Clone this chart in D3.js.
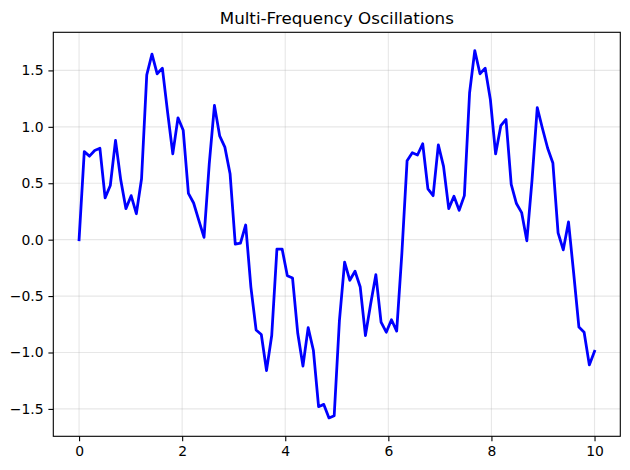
<!DOCTYPE html>
<html><head><meta charset="utf-8">
<script src="https://cdn.jsdelivr.net/npm/d3@7"></script>
<style>body{margin:0;background:#fff}svg{display:block}</style>
</head><body>
<script>
const title = "Multi-Frequency Oscillations";
const nPoints = 100;
const xStart = 0, xEnd = 10;
const yValues = [
  0.00, 0.78, 0.74, 0.79, 0.81, 0.37, 0.48, 0.88, 0.53, 0.275,
  0.39, 0.23, 0.54, 1.46, 1.645, 1.47, 1.52, 1.13, 0.76, 1.08,
  0.97, 0.41, 0.325, 0.17, 0.02, 0.67, 1.19, 0.92, 0.82, 0.585,
  -0.04, -0.03, 0.13, -0.42, -0.80, -0.84, -1.16, -0.85, -0.083, -0.083,
  -0.32, -0.34, -0.83, -1.12, -0.78, -0.98, -1.48, -1.46, -1.58, -1.56,
  -0.72, -0.20, -0.36, -0.28, -0.42, -0.85, -0.57, -0.31, -0.73, -0.82,
  -0.71, -0.81, -0.12, 0.70, 0.77, 0.75, 0.85, 0.45, 0.39, 0.84,
  0.65, 0.275, 0.385, 0.26, 0.39, 1.30, 1.675, 1.47, 1.52, 1.24,
  0.76, 1.01, 1.065, 0.49, 0.32, 0.24, -0.01, 0.53, 1.17, 0.985,
  0.81, 0.68, 0.06, -0.09, 0.157, -0.30, -0.775, -0.82, -1.11, -0.99
];
const xTicks = [0, 2, 4, 6, 8, 10];
const yTicks = [-1.5, -1.0, -0.5, 0.0, 0.5, 1.0, 1.5];

const W = 630, H = 470;
const m = {left: 53.3, top: 32.3, right: 630 - 620.3, bottom: 470 - 436.3};
const xValues = d3.range(nPoints).map(i => xStart + (xEnd - xStart) * i / (nPoints - 1));

const svg = d3.select("body").append("svg").attr("width", W).attr("height", H);

const xr = d3.extent(xValues), yr = d3.extent(yValues);
const xm = (xr[1] - xr[0]) * 0.05, ym = (yr[1] - yr[0]) * 0.05;
const x = d3.scaleLinear().domain([xr[0] - xm, xr[1] + xm]).range([m.left, W - m.right]);
const y = d3.scaleLinear().domain([yr[0] - ym, yr[1] + ym]).range([H - m.bottom, m.top]);

const font = "DejaVu Sans, sans-serif";
const fmt = d => (d < 0 ? "\u2212" : "") + Math.abs(d).toFixed(1);

// grid
const g = svg.append("g");
g.selectAll(".vx").data(xTicks).enter().append("line")
  .attr("x1", d => x(d)).attr("x2", d => x(d)).attr("y1", m.top).attr("y2", H - m.bottom)
  .attr("stroke", "#b0b0b0").attr("stroke-opacity", 0.3).attr("stroke-width", 1.1);
g.selectAll(".hy").data(yTicks).enter().append("line")
  .attr("y1", d => y(d)).attr("y2", d => y(d)).attr("x1", m.left).attr("x2", W - m.right)
  .attr("stroke", "#b0b0b0").attr("stroke-opacity", 0.3).attr("stroke-width", 1.1);

// axes
const xAxis = d3.axisBottom(x).tickValues(xTicks).tickFormat(d3.format("d")).tickSize(4.9).tickPadding(4.9);
const yAxis = d3.axisLeft(y).tickValues(yTicks).tickFormat(fmt).tickSize(4.9).tickPadding(4.9);
const ax = svg.append("g").attr("transform", `translate(0,${H - m.bottom})`).call(xAxis);
const ay = svg.append("g").attr("transform", `translate(${m.left},0)`).call(yAxis);
[ax, ay].forEach(a => {
  a.select(".domain").remove();
  a.selectAll(".tick line").attr("stroke", "#000").attr("stroke-width", 1.1);
  a.selectAll("text").attr("font-family", font).attr("font-size", "13.9px").attr("fill", "#000");
});

// line
const line = d3.line().x((d, i) => x(xValues[i])).y(d => y(d));
svg.append("path").datum(yValues).attr("d", line)
  .attr("fill", "none").attr("stroke", "#0000ff").attr("stroke-width", 2.78)
  .attr("stroke-linejoin", "round").attr("stroke-linecap", "square");

// frame
svg.append("rect").attr("x", m.left).attr("y", m.top)
  .attr("width", W - m.right - m.left).attr("height", H - m.bottom - m.top)
  .attr("fill", "none").attr("stroke", "#000").attr("stroke-width", 1.1);

// title
svg.append("text").attr("x", (m.left + W - m.right) / 2).attr("y", m.top - 8)
  .attr("text-anchor", "middle").attr("font-family", font).attr("font-size", "16.7px")
  .attr("fill", "#000").text(title);
</script>
</body></html>
